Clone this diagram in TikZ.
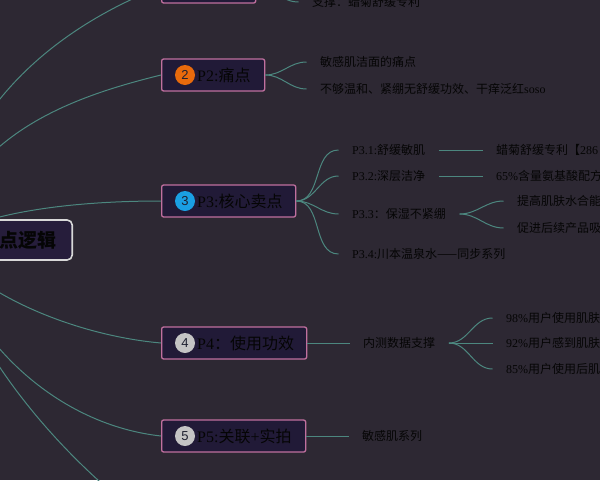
\documentclass[tikz,border=0pt]{standalone}
\usepackage{fontspec}
\setmainfont{Liberation Serif}
\newfontfamily\cjk{Noto Sans CJK SC}
\newfontfamily\numfont{Liberation Sans}
\definecolor{bgc}{HTML}{2D2833}
\definecolor{boxc}{HTML}{211A37}
\definecolor{pinkc}{HTML}{C0709F}
\definecolor{linkc}{HTML}{4C877F}
\definecolor{txtc}{HTML}{050505}
\definecolor{numc}{HTML}{1E2030}
\definecolor{centerfill}{HTML}{261D3B}
\definecolor{centerc}{HTML}{D8D8D8}
\definecolor{orangec}{HTML}{E86A0C}
\definecolor{bluec}{HTML}{1A9FE3}
\definecolor{grayc}{HTML}{C4C4C4}
\begin{document}
\begin{tikzpicture}[x=1pt,y=-1pt,
  topicbox/.style={draw=pinkc, line width=1.3pt, fill=boxc, rounded corners=2pt,
    minimum height=32pt, anchor=west, inner sep=0pt},
  numdot/.style={circle, minimum size=20pt, inner sep=0pt,
    font=\numfont\fontsize{13}{13}\selectfont, text=numc},
  toptext/.style={anchor=west, inner sep=0pt, font=\fontsize{16}{16}\selectfont, text=txtc},
  leaf/.style={anchor=west, inner xsep=13.5pt, inner ysep=2pt,
    font=\fontsize{12}{12}\selectfont, text=txtc},
  link/.style={draw=linkc, line width=1pt}]
\useasboundingbox (0,0) rectangle (600,480);
\clip (0,0) rectangle (600,480);
\fill[bgc] (0,0) rectangle (600,480);

% origin behind the central topic and off-canvas end of the sixth branch
\coordinate (o) at (-60,240);
\coordinate (p6end) at (161,529);

% main topic boxes
\node[topicbox, minimum width=94pt]  (p1) at (161,-13) {};
\node[topicbox, minimum width=103pt] (p2) at (161,75) {};
\node[topicbox, minimum width=134pt] (p3) at (161,201) {};
\node[topicbox, minimum width=145pt] (p4) at (161,343) {};
\node[topicbox, minimum width=144pt] (p5) at (161,436) {};

\node[numdot, fill=orangec] (n2) at (185,75) {2};
\node[numdot, fill=bluec]   (n3) at (185,201) {3};
\node[numdot, fill=grayc]   (n4) at (185,343) {4};
\node[numdot, fill=grayc]   (n5) at (185,436) {5};

\node[toptext] (t2) at (197,75) {P2:{\cjk 痛点}};
\node[toptext] (t3) at (197,201) {P3:{\cjk 核心卖点}};
\node[toptext] (t4) at (197,343) {P4{\cjk ：使用功效}};
\node[toptext] (t5) at (197,436) {P5:{\cjk 关联}+{\cjk 实拍}};

% branches from the root
\draw[link] (o) .. controls (-40,80) and (100,10) .. (p1.west);
\draw[link] (o) .. controls (-30,130) and (80,95) .. (p2.west);
\draw[link] (o) .. controls (-20,215) and (60,201) .. (p3.west);
\draw[link] (o) .. controls (-30,290) and (70,335) .. (p4.west);
\draw[link] (o) .. controls (-30,345) and (60,425) .. (p5.west);
\draw[link] (o) .. controls (-20,390) and (120,505) .. (p6end);

% P1 child
\node[leaf] (p11) at (298.5,2) {{\cjk 支撑：蜡菊舒缓专利}};
\draw[link] (p1.east) to[out=0,in=180] (p11.west);

% P2 children
\node[leaf] (p21) at (306.5,62) {{\cjk 敏感肌洁面的痛点}};
\node[leaf] (p22) at (306.5,89) {{\cjk 不够温和、紧绷无舒缓功效、干痒泛红}soso};
\draw[link] (p2.east) to[out=0,in=180] (p21.west);
\draw[link] (p2.east) to[out=0,in=180] (p22.west);

% P3 children
\node[leaf] (p31) at (338.5,150) {P3.1:{\cjk 舒缓敏肌}};
\node[leaf] (p32) at (338.5,176) {P3.2:{\cjk 深层洁净}};
\node[leaf] (p33) at (338.5,214) {P3.3{\cjk ：保湿不紧绷}};
\node[leaf] (p34) at (338.5,254) {P3.4:{\cjk 川本温泉水——同步系列}};
\draw[link] (p3.east) to[out=0,in=180] (p31.west);
\draw[link] (p3.east) to[out=0,in=180] (p32.west);
\draw[link] (p3.east) to[out=0,in=180] (p33.west);
\draw[link] (p3.east) to[out=0,in=180] (p34.west);

\node[leaf] (p311) at (482.5,150) {{\cjk 蜡菊舒缓专利【}286};
\node[leaf] (p321) at (482.5,176) {65\%{\cjk 含量氨基酸配方}};
\draw[link] (p31.east) -- (p311.west);
\draw[link] (p32.east) -- (p321.west);

\node[leaf] (p331) at (503.5,201) {{\cjk 提高肌肤水合能}};
\node[leaf] (p332) at (503.5,228) {{\cjk 促进后续产品吸}};
\draw[link] (p33.east) to[out=0,in=180] (p331.west);
\draw[link] (p33.east) to[out=0,in=180] (p332.west);

% P4 children
\node[leaf] (p41) at (349.5,343) {{\cjk 内测数据支撑}};
\draw[link] (p4.east) -- (p41.west);
\node[leaf] (p411) at (492.5,318) {98\%{\cjk 用户使用肌肤}};
\node[leaf] (p412) at (492.5,343) {92\%{\cjk 用户感到肌肤}};
\node[leaf] (p413) at (492.5,369) {85\%{\cjk 用户使用后肌}};
\draw[link] (p41.east) to[out=0,in=180] (p411.west);
\draw[link] (p41.east) -- (p412.west);
\draw[link] (p41.east) to[out=0,in=180] (p413.west);

% P5 child
\node[leaf] (p51) at (348.5,436) {{\cjk 敏感肌系列}};
\draw[link] (p5.east) -- (p51.west);

% central topic (on top of the branch origins)
\node[anchor=east, draw=centerc, line width=1.6pt, fill=centerfill, rounded corners=5pt,
  minimum height=40pt, inner xsep=16pt, inner ysep=0pt,
  font=\cjk\bfseries\fontsize{19}{19}\selectfont, text=txtc] (root) at (73,240) {卖点逻辑};
\end{tikzpicture}
\end{document}
